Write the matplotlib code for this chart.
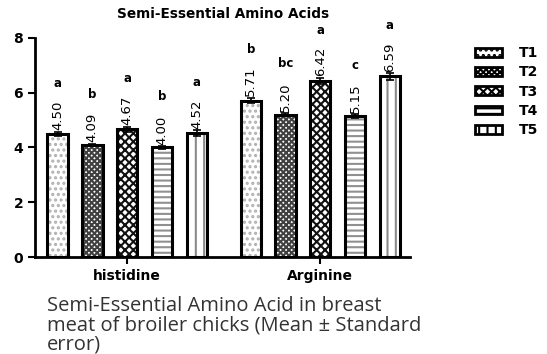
import numpy as np
import matplotlib.pyplot as plt
from matplotlib.patches import Patch

amino_acids = ['histidine', 'Arginine']
treatments = ['T1', 'T2', 'T3', 'T4', 'T5']
means = np.array([[4.50, 4.09, 4.67, 4.00, 4.52],
                  [5.71, 5.20, 6.42, 5.15, 6.59]])
errors = np.array([[0.08, 0.05, 0.09, 0.04, 0.10],
                   [0.10, 0.06, 0.12, 0.07, 0.11]])
letters = [['a', 'b', 'a', 'b', 'a'],
           ['b', 'bc', 'a', 'c', 'a']]

hatches = ['...', 'xxxxxx', 'xxxx', '---', '||']
hatch_colors = ['#b0b0b0', '#404040', '#111111', '#909090', '#8a8a8a']

plt.rcParams['hatch.linewidth'] = 1.5
fig = plt.figure(figsize=(5.47, 3.54), dpi=100)
ax = fig.add_axes([0.064, 0.274, 0.686, 0.619])

step = 0.18
width = 0.105
x = np.arange(len(amino_acids))
for i, t in enumerate(treatments):
    pos = x + (i - 2) * step
    vals = means[:, i]
    # hatch layer, then black outline on top
    ax.bar(pos, vals, width, color='white', edgecolor=hatch_colors[i],
           hatch=hatches[i], linewidth=0)
    ax.bar(pos, vals, width, fill=False, edgecolor='black', linewidth=2.2)
    ax.errorbar(pos, vals, yerr=errors[:, i], fmt='none', ecolor='black',
                elinewidth=1.2, capsize=3, capthick=1.2)
    for j in range(len(amino_acids)):
        ax.text(pos[j], vals[j] + errors[j, i] + 0.05, f'{vals[j]:.2f}',
                rotation=90, ha='center', va='bottom', fontsize=9.5)
        ax.text(pos[j], vals[j] + 1.85, letters[j][i], ha='center',
                va='center', fontsize=8.5, fontweight='bold')

ax.set_ylim(0, 8)
ax.set_xlim(-0.477, 1.466)
ax.set_yticks([0, 2, 4, 6, 8])
ax.set_xticks(x)
ax.set_xticklabels(amino_acids, fontsize=10, fontweight='bold')
for lab in ax.get_yticklabels():
    lab.set_fontweight('bold')
    lab.set_fontsize(10)
for s in ['top', 'right']:
    ax.spines[s].set_visible(False)
for s in ['left', 'bottom']:
    ax.spines[s].set_linewidth(2)
ax.tick_params(axis='both', width=1.5, length=5)
ax.set_title('Semi-Essential Amino Acids', fontsize=9.8, fontweight='bold', pad=14)

handles = [Patch(facecolor='white', edgecolor='black', linewidth=2,
                 hatch=hatches[i]) for i in range(len(treatments))]
leg = fig.legend(handles, treatments, loc='upper left',
                 bbox_to_anchor=(0.845, 0.905), frameon=False,
                 handlelength=2.0, handleheight=0.6, labelspacing=0.38,
                 handletextpad=1.2,
                 prop={'weight': 'bold', 'size': 10})

fig.text(0.086, 0.163, 'Semi-Essential Amino Acid in breast\n'
         'meat of broiler chicks (Mean \u00b1 Standard\nerror)',
         fontsize=14.5, color='#333333', family='Open Sans',
         linespacing=0.95, va='top')

fig.savefig('out.png', dpi=100)
